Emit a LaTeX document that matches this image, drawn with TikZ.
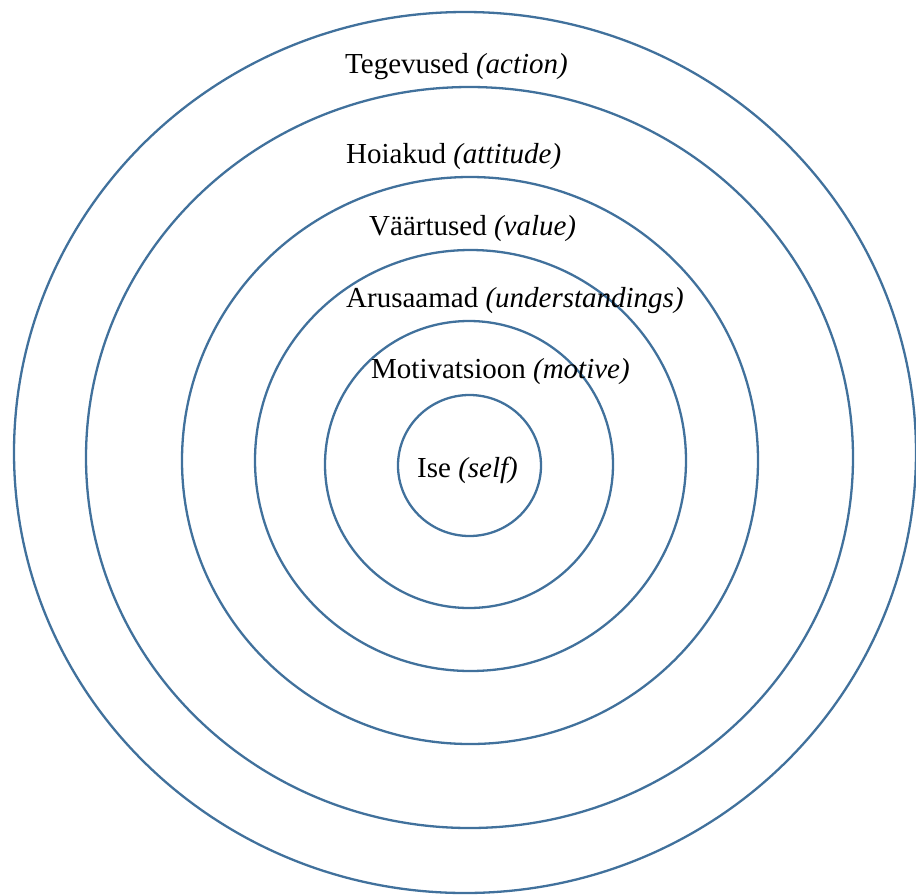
\documentclass[tikz,border=0pt]{standalone}
\usepackage{fontspec}
\setmainfont{Liberation Serif}
\usetikzlibrary{shapes.geometric}
\definecolor{ringblue}{RGB}{65,113,156}
\tikzset{
  ring/.style={ellipse, draw=ringblue, line width=2.3pt, inner sep=0pt, fill=none},
  lbl/.style={anchor=base west, inner sep=0pt, text=black, font=\fontsize{29}{34}\selectfont}
}
\begin{document}
\begin{tikzpicture}[x=1pt,y=-1pt]
\useasboundingbox (0,0) rectangle (916,895);
\begin{scope}
\clip (0,0) rectangle (916,895);
\node[ring, minimum width=902pt, minimum height=881pt] (r1) at (465,452.5) {};
\node[ring, minimum width=767pt, minimum height=741pt] (r2) at (469.5,457.5) {};
\node[ring, minimum width=576pt, minimum height=567pt] (r3) at (470,460.5) {};
\node[ring, minimum width=431pt, minimum height=421pt] (r4) at (470.5,460.5) {};
\node[ring, minimum width=288pt, minimum height=287pt] (r5) at (469,464.5) {};
\node[ring, minimum width=143pt, minimum height=141pt] (r6) at (469.5,465.5) {};
\end{scope}
\node[lbl] (t1) at (345,73) {Tegevused \textit{(action)}};
\node[lbl] (t2) at (346,163) {Hoiakud \textit{(attitude)}};
\node[lbl] (t3) at (369,235) {Väärtused \textit{(value)}};
\node[lbl] (t4) at (346,307) {Arusaamad \textit{(understandings)}};
\node[lbl] (t5) at (371,378) {Motivatsioon \textit{(motive)}};
\node[lbl] (t6) at (417,477) {Ise \textit{(self)}};
\end{tikzpicture}
\end{document}
